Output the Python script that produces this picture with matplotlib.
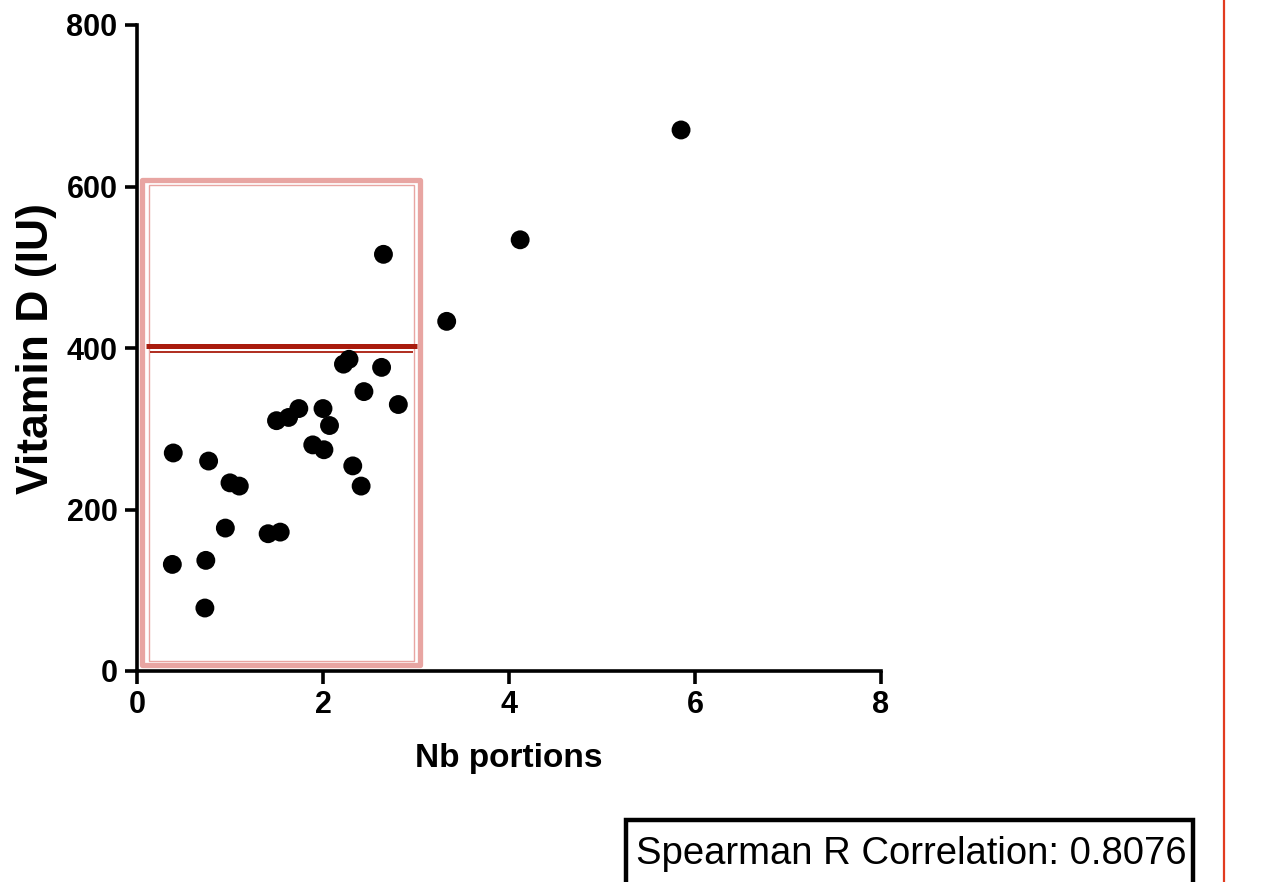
import matplotlib
matplotlib.use("Agg")
import matplotlib.pyplot as plt
from matplotlib.patches import Rectangle

# ---- data ----
nb_portions = [0.39, 0.77, 1.00, 1.10, 0.95, 1.41, 1.54, 0.38, 0.74, 0.73,
               1.50, 1.63, 1.74, 2.00, 2.07, 1.89, 2.01, 2.22, 2.28, 2.63,
               2.44, 2.81, 2.32, 2.41, 2.65, 3.33, 4.12, 5.85]
vitamin_d = [270, 260, 233, 229, 177, 170, 172, 132, 137, 78,
             310, 314, 325, 325, 304, 280, 274, 380, 386, 376,
             346, 330, 254, 229, 516, 433, 534, 670]
x_ticks = [0, 2, 4, 6, 8]
y_ticks = [0, 200, 400, 600, 800]
x_label = "Nb portions"
y_label = "Vitamin D (IU)"
annotation = "Spearman R Correlation: 0.8076"
threshold_thick = 402.7
threshold_thin = 395.3
box_x = (0.059, 3.04)
box_y = (7, 608)

plt.rcParams['font.family'] = ['Liberation Sans', 'DejaVu Sans']

fig = plt.figure(figsize=(12.69, 8.82), dpi=100)
ax = fig.add_axes([137/1269, 1 - 671/882, (881-137)/1269, (671-25)/882])

ax.set_xlim(0, 8)
ax.set_ylim(0, 800)

# highlight box (double pink border)
ax.add_patch(Rectangle((box_x[0], box_y[0]), box_x[1]-box_x[0], box_y[1]-box_y[0],
                       fill=False, edgecolor='#E8A5A2', lw=3.8, joinstyle='round',
                       clip_on=False, zorder=2))
ax.add_patch(Rectangle((box_x[0]+0.065, box_y[0]+6), box_x[1]-box_x[0]-0.13, box_y[1]-box_y[0]-12,
                       fill=False, edgecolor='#E8A5A2', lw=1.0, clip_on=False, zorder=2))

# threshold lines
ax.plot([0.097, 3.01], [threshold_thick]*2, color='#A91B0D', lw=3.6, solid_capstyle='butt', zorder=3)
ax.plot([0.14, 2.97], [threshold_thin]*2, color='#A91B0D', lw=1.3, solid_capstyle='butt', zorder=3)

ax.scatter(nb_portions, vitamin_d, s=185, color='black', edgecolor='none', zorder=4, clip_on=False)

for side in ['top', 'right']:
    ax.spines[side].set_visible(False)
for side in ['left', 'bottom']:
    ax.spines[side].set_linewidth(2.6)
    ax.spines[side].set_capstyle('projecting')

ax.set_xticks(x_ticks)
ax.set_yticks(y_ticks)
ax.set_xticklabels([str(t) for t in x_ticks])
ax.set_yticklabels([str(t) for t in y_ticks])
ax.tick_params(axis='both', length=9, width=2.6, labelsize=22, direction='out', pad=5)
for lab in ax.get_xticklabels() + ax.get_yticklabels():
    lab.set_fontweight('bold')

ax.set_xlabel(x_label, fontsize=24, fontweight='bold', labelpad=16)
ax.set_ylabel(y_label, fontsize=32, fontweight='bold', labelpad=7)

# right red vertical line
fig.add_artist(plt.Line2D([1223.7/1269]*2, [0, 1], transform=fig.transFigure,
                          color='#E23B1F', lw=1.6))

# annotation box
fig.add_artist(Rectangle((626/1269, -0.05), (1193-626)/1269, 0.05 + (882-820)/882,
                         transform=fig.transFigure, fill=False, edgecolor='black', lw=3.2))
fig.text(911/1269, 1 - 854/882, annotation, fontsize=27.5, ha='center', va='center')

fig.savefig("out.png", dpi=100)
